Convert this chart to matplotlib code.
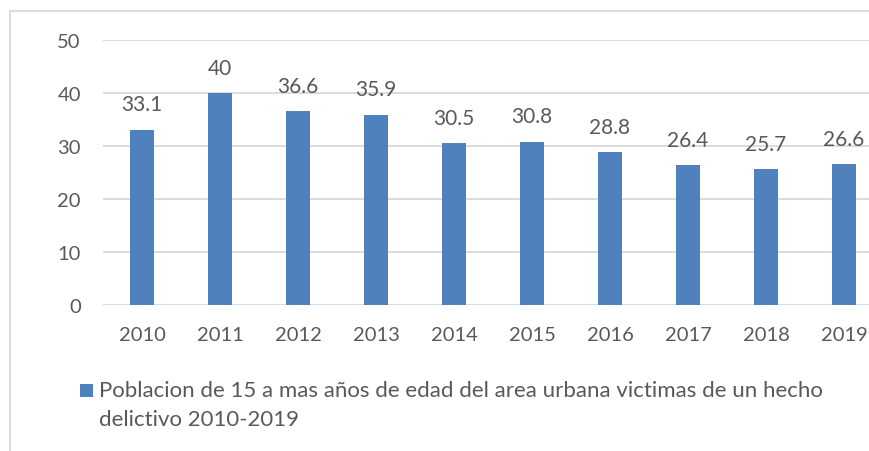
import matplotlib
matplotlib.use('Agg')
import matplotlib.pyplot as plt
from matplotlib.patches import Rectangle

years = ['2010', '2011', '2012', '2013', '2014', '2015', '2016', '2017', '2018', '2019']
values = [33.1, 40, 36.6, 35.9, 30.5, 30.8, 28.8, 26.4, 25.7, 26.6]
yticks = [0, 10, 20, 30, 40, 50]
legend_label = 'Poblacion de 15 a mas años de edad del area urbana victimas de un hecho'
legend_label2 = 'delictivo 2010-2019'

plt.rcParams['font.family'] = ['Lato', 'DejaVu Sans']
txt = '#595959'
bar_c = '#4F81BD'
grid_c = '#D9D9D9'

W, H = 870, 452
fig = plt.figure(figsize=(W/100, H/100), dpi=100)
ax = fig.add_axes([103/W, 1-306/H, 780/W, 265/H])

x = list(range(len(years)))
ax.bar(x, values, width=0.31, color=bar_c, zorder=3)
for xi, v in zip(x, values):
    ax.annotate('%g' % v, (xi, v), xytext=(0, 11), textcoords='offset points',
                ha='center', va='bottom', fontsize=15, color=txt)

ax.set_xlim(-0.5, len(years)-0.5)
ax.set_ylim(0, 50)
ax.set_yticks(yticks)
ax.set_xticks(x)
ax.set_xticklabels(years)
ax.yaxis.grid(True, color=grid_c, lw=1.3, zorder=0)
for s in ax.spines.values():
    s.set_visible(False)
ax.tick_params(length=0, labelsize=14.5, labelcolor=txt)
ax.tick_params(axis='y', pad=16)
ax.tick_params(axis='x', pad=15)

# chart frame
fig.patches.append(Rectangle((10/W, -0.1), 1.2, 1-12/H+0.1, transform=fig.transFigure,
                             fill=False, edgecolor=grid_c, lw=1.3))

# legend
fig.patches.append(Rectangle((80/W, 1-398/H), 13/W, 13/H, transform=fig.transFigure,
                             facecolor=bar_c, edgecolor='none'))
fig.text(99/W, 1-391/H, legend_label, fontsize=16, color=txt, va='center', ha='left')
fig.text(99/W, 1-420/H, legend_label2, fontsize=16, color=txt, va='center', ha='left')

plt.savefig('out.png', dpi=100)
plt.close()
